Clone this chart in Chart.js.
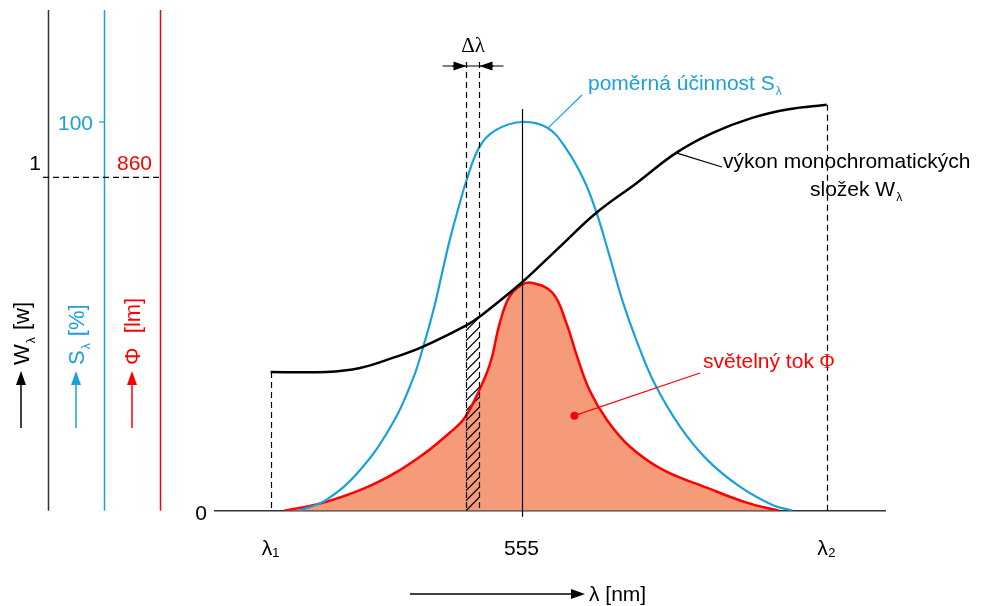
<!DOCTYPE html>
<html>
<head>
<meta charset="utf-8">
<script src="https://cdn.jsdelivr.net/npm/chart.js@4.4.1/dist/chart.umd.min.js"></script>
<style>
  html, body { margin: 0; padding: 0; background: #fff; }
  #wrap { width: 1003px; height: 606px; }
</style>
</head>
<body>
<div id="wrap"><canvas id="lightChart"></canvas></div>
<script>
// wavelength ticks (nm) and their labels
const lambdaTicks = [370, 555, 780];
const lambdaTickLabels = ["λ₁", "555", "λ₂"];
const deltaLambda = [514, 524];

// poměrná účinnost S (%)
const sWave = [391, 411, 436, 460, 475, 482, 490, 496, 502, 509, 514, 524, 536, 555, 574, 588, 601, 610, 620, 630, 640, 653, 672, 692, 716, 740, 755];
const sValues = [0, 2.8, 10.5, 22.5, 34, 41.5, 51.5, 60.5, 69.5, 78.5, 84.5, 93.6, 97.9, 100, 98.5, 93.1, 85.1, 77.0, 65.4, 53.4, 43.6, 32.8, 21.6, 13.1, 6.2, 1.5, 0];

// výkon monochromatických složek W (w)
const wWave = [370, 411, 436, 460, 482, 515, 524, 555, 583, 610, 640, 669, 696, 725, 752, 780];
const wValues = [0.416, 0.416, 0.428, 0.458, 0.491, 0.557, 0.581, 0.683, 0.790, 0.892, 0.982, 1.072, 1.132, 1.177, 1.203, 1.216];

// světelný tok Φ (lm)
const phiWave = [380, 411, 448, 480, 502, 513, 524, 532, 539, 546, 555, 563, 578, 588, 596, 605, 618, 635, 659, 692, 721, 745];
const phiValues = [0, 23, 72, 139, 201, 239, 312, 381, 484, 551, 582, 587, 561, 484, 397, 312, 234, 165, 106, 59, 21, 0];

const SANS = "'Liberation Sans', Arial, sans-serif";
const SERIF = "'Liberation Serif', 'Times New Roman', serif";
const BLUE = "#1aa0da";
const RED = "#ff0000";

function pts(xs, ys) { return xs.map((x, i) => ({ x: x, y: ys[i] })); }

function interp(xs, ys, v) {
  for (let i = 1; i < xs.length; i++) {
    if (v <= xs[i]) {
      const t = (v - xs[i - 1]) / (xs[i] - xs[i - 1]);
      return ys[i - 1] + t * (ys[i] - ys[i - 1]);
    }
  }
  return ys[ys.length - 1];
}

function line(ctx, x1, y1, x2, y2, color, w, dash) {
  ctx.save();
  ctx.strokeStyle = color;
  ctx.lineWidth = w || 1;
  ctx.setLineDash(dash || []);
  ctx.beginPath();
  ctx.moveTo(x1, y1);
  ctx.lineTo(x2, y2);
  ctx.stroke();
  ctx.restore();
}

function arrow(ctx, x1, y1, x2, y2, color, len, half) {
  const a = Math.atan2(y2 - y1, x2 - x1);
  line(ctx, x1, y1, x2 - Math.cos(a) * len * 0.8, y2 - Math.sin(a) * len * 0.8, color, 1.5);
  ctx.save();
  ctx.fillStyle = color;
  ctx.beginPath();
  ctx.moveTo(x2, y2);
  ctx.lineTo(x2 - Math.cos(a) * len - Math.sin(a) * half, y2 - Math.sin(a) * len + Math.cos(a) * half);
  ctx.lineTo(x2 - Math.cos(a) * len + Math.sin(a) * half, y2 - Math.sin(a) * len - Math.cos(a) * half);
  ctx.closePath();
  ctx.fill();
  ctx.restore();
}

// text with a small subscript; (x, y) = baseline start
function subText(ctx, main, sub, x, y, size, color, align, tail) {
  ctx.save();
  ctx.fillStyle = color;
  ctx.textBaseline = "alphabetic";
  ctx.textAlign = "left";
  ctx.font = size + "px " + SANS;
  const w1 = ctx.measureText(main).width;
  ctx.font = Math.round(size * 0.55) + "px " + SANS;
  const w2 = ctx.measureText(sub).width;
  let x0 = x;
  if (align === "right") x0 = x - w1 - w2 - 1;
  ctx.font = size + "px " + SANS;
  ctx.fillText(main, x0, y);
  ctx.font = Math.round(size * 0.55) + "px " + SANS;
  ctx.fillText(sub, x0 + w1 + 1, y + size * 0.25);
  if (tail) {
    ctx.font = size + "px " + SANS;
    ctx.fillText(tail, x0 + w1 + w2 + 2, y);
  }
  ctx.restore();
}

function text(ctx, s, x, y, size, color, align, family) {
  ctx.save();
  ctx.fillStyle = color;
  ctx.textBaseline = "alphabetic";
  ctx.textAlign = align || "left";
  ctx.font = size + "px " + (family || SANS);
  ctx.fillText(s, x, y);
  ctx.restore();
}

const hatchPlugin = {
  id: "hatch",
  beforeDatasetsDraw(chart) {
    const ctx = chart.ctx;
    const xs = chart.scales.x, yW = chart.scales.yW;
    const base = chart.chartArea.bottom;
    const xa = xs.getPixelForValue(deltaLambda[0]);
    const xb = xs.getPixelForValue(deltaLambda[1]);
    const ya = yW.getPixelForValue(interp(wWave, wValues, deltaLambda[0]));
    const yb = yW.getPixelForValue(interp(wWave, wValues, deltaLambda[1]));
    ctx.save();
    ctx.beginPath();
    ctx.moveTo(xa, base);
    ctx.lineTo(xa, ya);
    ctx.lineTo(xb, yb);
    ctx.lineTo(xb, base);
    ctx.closePath();
    ctx.clip();
    ctx.strokeStyle = "#000";
    ctx.lineWidth = 1.2;
    for (let k = 0; k < 240; k += 10) {
      ctx.beginPath();
      ctx.moveTo(xa - 2, base - k + 2);
      ctx.lineTo(xb + 2, base - k - (xb - xa) - 2);
      ctx.stroke();
    }
    ctx.restore();
  }
};

const decorPlugin = {
  id: "decor",
  afterDatasetsDraw(chart) {
    const ctx = chart.ctx;
    const xs = chart.scales.x, yS = chart.scales.yS, yW = chart.scales.yW, yP = chart.scales.yPhi;
    const area = chart.chartArea;
    const base = area.bottom;

    // left value axes
    line(ctx, 48.5, area.top, 48.5, base, "#333", 1.5);
    line(ctx, 104.5, area.top, 104.5, base, BLUE, 1.5);
    line(ctx, 160.5, area.top, 160.5, base, RED, 1.5);
    const y100 = yS.getPixelForValue(100);
    line(ctx, 99, y100, 104, y100, BLUE, 1.2);
    const yOne = yW.getPixelForValue(1);
    line(ctx, 43, yOne + 0.5, 160, yOne + 0.5, "#000", 1.2, [6, 4]);
    text(ctx, "1", 41, yOne - 7, 21, "#000", "right");
    text(ctx, "100", 93, y100 + 8, 21, BLUE, "right");
    text(ctx, "860", 152, yOne - 7, 21, RED, "right");

    // rotated axis titles with arrows
    const titles = [
      { x: 29, main: "W", sub: "λ", tail: " [w]", color: "#000" },
      { x: 84, main: "S", sub: "λ", tail: " [%]", color: BLUE },
      { x: 140, main: "Φ", sub: "", tail: "  [lm]", color: RED }
    ];
    titles.forEach(t => {
      ctx.save();
      ctx.translate(t.x, 365);
      ctx.rotate(-Math.PI / 2);
      subText(ctx, t.main, t.sub, 0, 0, 22, t.color, "left", t.tail);
      ctx.restore();
      arrow(ctx, t.x - 8, 428, t.x - 8, 371, t.color, 14, 5);
    });

    // "0" on the baseline
    text(ctx, "0", 201, base + 9, 21, "#000", "center");

    // vertical line at 555 nm
    const x555 = xs.getPixelForValue(555);
    line(ctx, Math.round(x555) + 0.5, y100 - 13, Math.round(x555) + 0.5, base + 6, "#000", 1.2);

    // dashed verticals at λ1, λ2
    [lambdaTicks[0], lambdaTicks[2]].forEach(v => {
      const px = Math.round(xs.getPixelForValue(v)) + 0.5;
      line(ctx, px, yW.getPixelForValue(interp(wWave, wValues, v)), px, base, "#000", 1.2, [6, 4]);
    });

    // Δλ band
    const xa = Math.round(xs.getPixelForValue(deltaLambda[0])) + 0.5;
    const xb = Math.round(xs.getPixelForValue(deltaLambda[1])) + 0.5;
    line(ctx, xa, 62, xa, base, "#000", 1.2, [6, 4]);
    line(ctx, xb, 62, xb, base, "#000", 1.2, [6, 4]);
    line(ctx, xa - 24, 66, xb + 24, 66, "#000", 1.2);
    arrow(ctx, xa - 14, 66, xa, 66, "#000", 13, 4.5);
    arrow(ctx, xb + 14, 66, xb, 66, "#000", 13, 4.5);
    text(ctx, "Δλ", (xa + xb) / 2, 52, 21, "#000", "center", SERIF);

    // annotation: poměrná účinnost
    const sx = xs.getPixelForValue(575), sy = yS.getPixelForValue(interp(sWave, sValues, 575));
    line(ctx, sx - 1, sy - 1, 582, 95, BLUE, 1.2);
    subText(ctx, "poměrná účinnost S", "λ", 588, 90, 21, BLUE, "left");

    // annotation: výkon monochromatických složek
    const wx = xs.getPixelForValue(669), wy = yW.getPixelForValue(interp(wWave, wValues, 669));
    line(ctx, wx, wy, 722, 167, "#000", 1.2);
    text(ctx, "výkon monochromatických", 723, 168, 21, "#000", "left");
    subText(ctx, "složek W", "λ", 810, 196, 21, "#000", "left");

    // annotation: světelný tok
    const px = xs.getPixelForValue(594), py = yP.getPixelForValue(245);
    line(ctx, px, py, 700, 373, RED, 1.2);
    ctx.save();
    ctx.fillStyle = RED;
    ctx.beginPath();
    ctx.arc(px, py, 4, 0, Math.PI * 2);
    ctx.fill();
    ctx.restore();
    text(ctx, "světelný tok ", 703, 368, 21, RED, "left");
    ctx.save();
    ctx.font = "21px " + SANS;
    const tw = ctx.measureText("světelný tok ").width;
    ctx.restore();
    text(ctx, "Φ", 703 + tw, 368, 20, RED, "left", SERIF);

    // horizontal axis title
    arrow(ctx, 410, 594, 585, 594, "#000", 14, 5);
    text(ctx, "λ [nm]", 589, 601, 21, "#000", "left");
  }
};

const ctx = document.getElementById("lightChart").getContext("2d");
const lightChart = new Chart(ctx, {
  type: "line",
  data: {
    datasets: [
      {
        label: "W",
        data: pts(wWave, wValues),
        yAxisID: "yW",
        borderColor: "#000",
        borderWidth: 2.5,
        pointRadius: 0,
        fill: false,
        tension: 0.4
      },
      {
        label: "S",
        data: pts(sWave, sValues),
        yAxisID: "yS",
        borderColor: BLUE,
        borderWidth: 2.2,
        pointRadius: 0,
        fill: false,
        tension: 0.4
      },
      {
        label: "Φ",
        data: pts(phiWave, phiValues),
        yAxisID: "yPhi",
        borderColor: RED,
        backgroundColor: "#f69b79",
        borderWidth: 2.5,
        pointRadius: 0,
        fill: "origin",
        tension: 0.4
      }
    ]
  },
  options: {
    responsive: true,
    maintainAspectRatio: false,
    devicePixelRatio: 1,
    animation: false,
    layout: { padding: { left: 215, right: 118, top: 10, bottom: 18 } },
    plugins: {
      legend: { display: false },
      tooltip: { enabled: false },
      filler: { drawTime: "beforeDatasetsDraw" }
    },
    scales: {
      x: {
        type: "linear",
        min: 329,
        max: 823,
        afterBuildTicks: scale => { scale.ticks = lambdaTicks.map(v => ({ value: v })); },
        grid: { display: false, drawTicks: false },
        border: { display: true, color: "#333", width: 1.5 },
        ticks: {
          padding: 26,
          color: "#000",
          font: { family: SANS, size: 21 },
          callback: v => lambdaTickLabels[lambdaTicks.indexOf(v)]
        }
      },
      yS: { display: false, min: 0, max: 128.8 },
      yW: { display: false, min: 0, max: 1.5 },
      yPhi: { display: false, min: 0, max: 1290 }
    }
  },
  plugins: [hatchPlugin, decorPlugin]
});
</script>
</body>
</html>
